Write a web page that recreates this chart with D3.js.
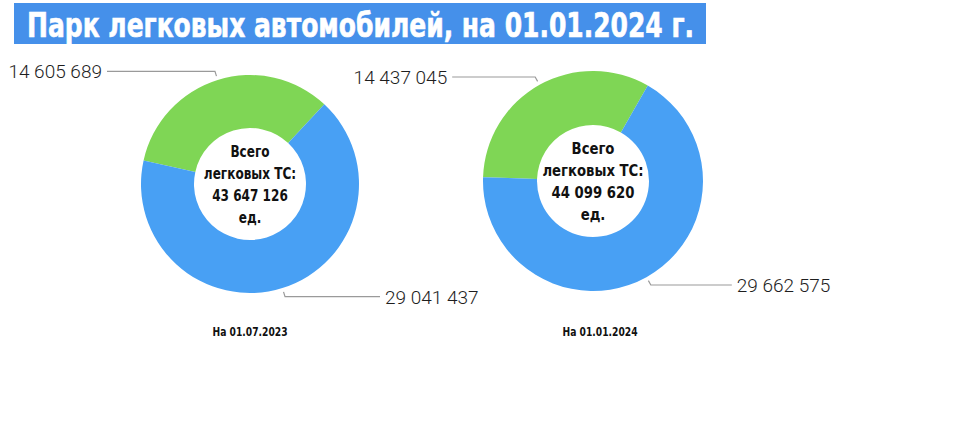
<!DOCTYPE html>
<html>
<head>
<meta charset="utf-8">
<script src="https://cdn.jsdelivr.net/npm/d3@7"></script>
<style>
  body { margin: 0; background: #fff; }
  svg { display: block; }
</style>
</head>
<body>
<div id="chart"></div>
<script>
// Chart data
const titleText = "Парк легковых автомобилей, на 01.01.2024 г.";
const dates = ["На 01.07.2023", "На 01.01.2024"];
const greenValues = [14605689, 14437045];
const blueValues = [29041437, 29662575];
const totals = [43647126, 44099620];
const centerLines = ["Всего", "легковых ТС:"];
const unitLabel = "ед.";

// Layout of each donut (pixels / degrees)
const layout = [
  { cx: 250, cy: 184, r: 109, start: -77.5, lineLen: [108, 95], capX: 250, squeeze: 0.84 },
  { cx: 593, cy: 181, r: 110, start: -88, lineLen: [83, 81], capX: 600, squeeze: 0.92 }
];

const width = 964, height = 422;
const innerR = 56;
const colors = ["#7fd655", "#48a0f4"];
const condensed = "'Liberation Sans Narrow', 'DejaVu Sans Condensed', 'DejaVu Sans', sans-serif";

const locale = d3.formatLocale({ decimal: ",", thousands: " ", grouping: [3], currency: ["", ""] });
const fmt = locale.format(",d");

const svg = d3.select("#chart").append("svg")
  .attr("width", width)
  .attr("height", height);

// Title bar
svg.append("rect")
  .attr("x", 14).attr("y", 3)
  .attr("width", 692).attr("height", 41)
  .attr("fill", "#4590ea");

svg.append("text")
  .attr("x", 27).attr("y", 37)
  .attr("textLength", 667)
  .attr("lengthAdjust", "spacingAndGlyphs")
  .style("font-family", condensed)
  .style("font-stretch", "condensed")
  .style("font-weight", "bold")
  .style("font-size", "34px")
  .attr("fill", "#fff")
  .attr("stroke", "#fff")
  .attr("stroke-width", 0.6)
  .text(titleText);

const pie = d3.pie().sort(null);
const toRad = Math.PI / 180;

dates.forEach((date, i) => {
  const L = layout[i];
  const values = [greenValues[i], blueValues[i]];
  const arcs = pie.startAngle(L.start * toRad).endAngle(L.start * toRad + 2 * Math.PI)(values);

  const arc = d3.arc().innerRadius(innerR).outerRadius(L.r);
  const g = svg.append("g").attr("transform", `translate(${L.cx},${L.cy})`);

  g.selectAll("path.slice")
    .data(arcs)
    .enter().append("path")
    .attr("class", "slice")
    .attr("d", arc)
    .attr("fill", (d, k) => colors[k]);

  // Leader lines and value labels
  arcs.forEach((d, k) => {
    const mid = (d.startAngle + d.endAngle) / 2;
    const a = d3.arc().innerRadius(L.r + 4).outerRadius(L.r + 4).centroid({ startAngle: mid, endAngle: mid });
    const b = d3.arc().innerRadius(L.r + 9).outerRadius(L.r + 9).centroid({ startAngle: mid, endAngle: mid });
    const dir = b[0] < 0 ? -1 : 1;
    const c = [b[0] + dir * L.lineLen[k], b[1]];

    g.append("polyline")
      .attr("points", [a, b, c].map(p => p.join(",")).join(" "))
      .attr("fill", "none")
      .attr("stroke", "#9a9a9a")
      .attr("stroke-width", 1.2);

    g.append("text")
      .attr("x", c[0] + dir * 5)
      .attr("y", c[1] + 7)
      .attr("text-anchor", dir < 0 ? "end" : "start")
      .style("font-family", "Roboto, 'Liberation Sans', sans-serif")
      .style("font-weight", 300)
      .style("font-size", "19px")
      .attr("fill", "#1e1e1e")
      .text(fmt(values[k]));
  });

  // Center total
  const lines = centerLines.concat([fmt(totals[i]), unitLabel]);
  g.append("g")
    .attr("transform", `scale(${L.squeeze},1)`)
    .selectAll("text")
    .data(lines)
    .enter().append("text")
    .attr("x", 0)
    .attr("y", (d, k) => -27 + k * 22)
    .attr("text-anchor", "middle")
    .style("font-family", condensed)
    .style("font-stretch", "condensed")
    .style("font-weight", "bold")
    .style("font-size", "16px")
    .attr("fill", "#111")
    .text(d => d);

  // Caption
  svg.append("g")
    .attr("transform", `translate(${L.capX},336) scale(0.85,1)`)
    .append("text")
    .attr("text-anchor", "middle")
    .style("font-family", condensed)
    .style("font-stretch", "condensed")
    .style("font-weight", "bold")
    .style("font-size", "12px")
    .attr("fill", "#111")
    .text(date);
});
</script>
</body>
</html>
